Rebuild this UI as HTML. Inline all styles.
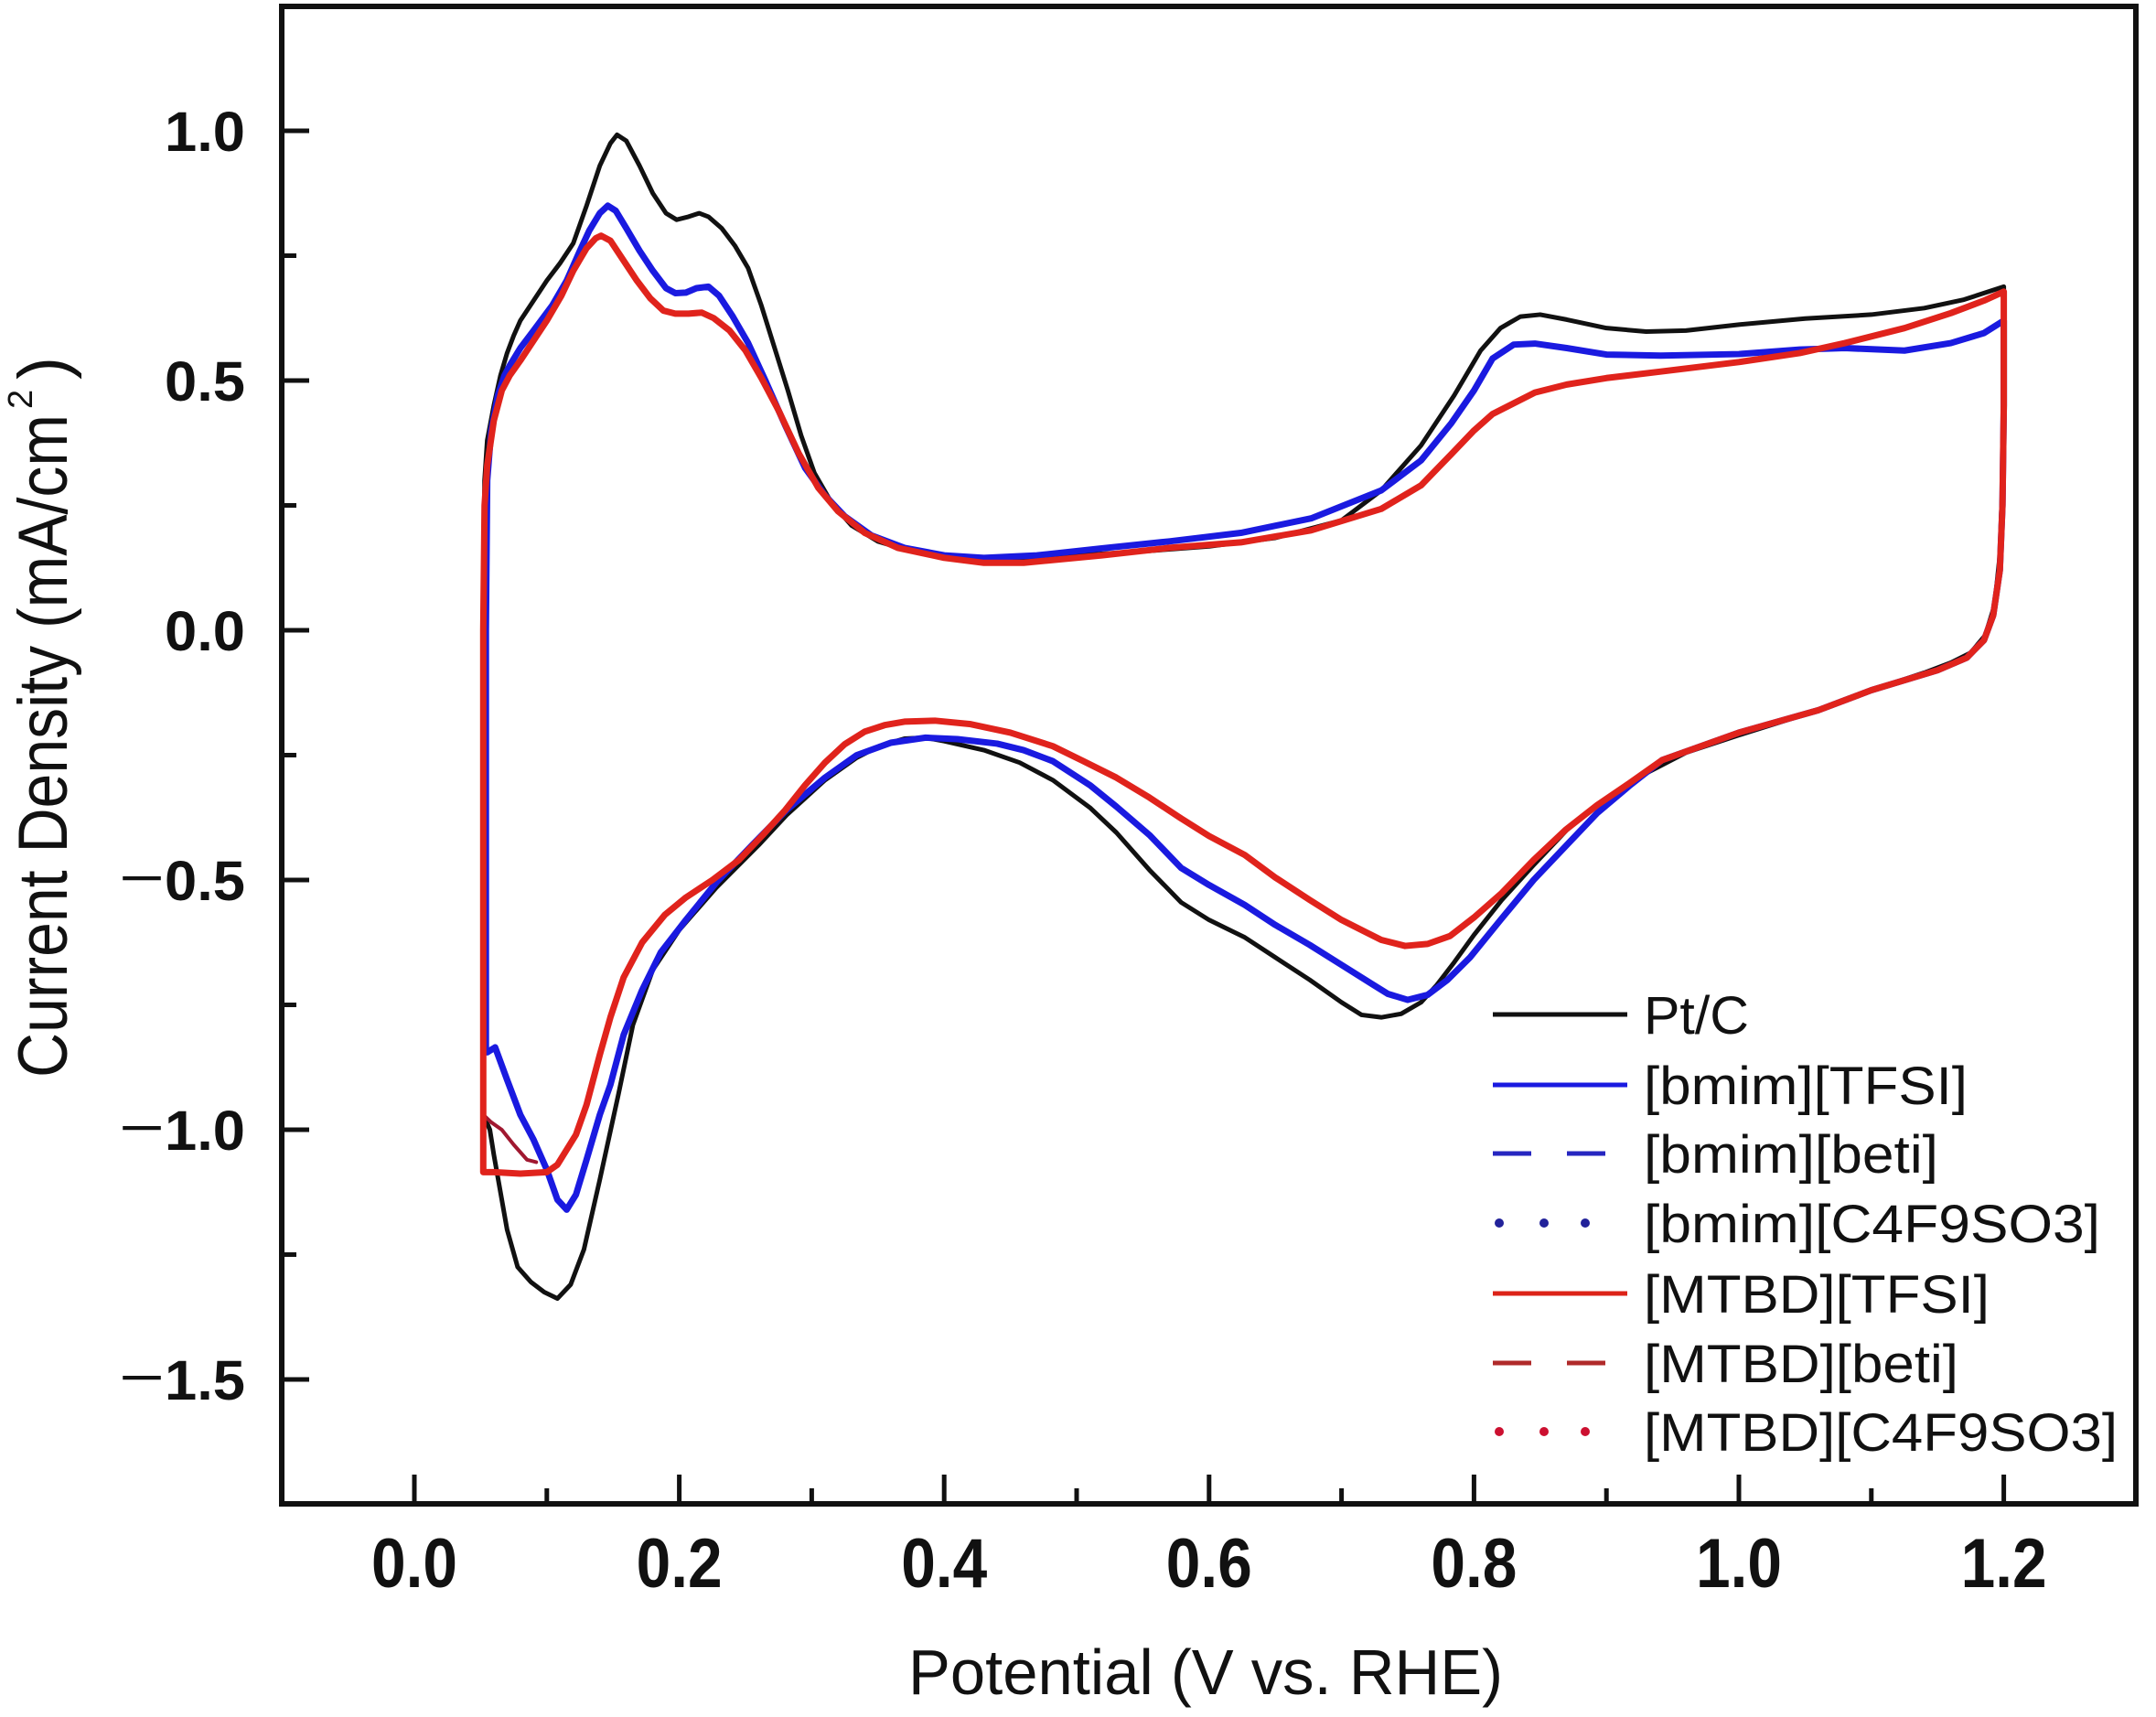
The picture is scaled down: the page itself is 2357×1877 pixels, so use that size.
<!DOCTYPE html>
<html>
<head>
<meta charset="utf-8">
<style>
  html,body{margin:0;padding:0;background:#fff;}
  svg{display:block;}
  text{font-family:"Liberation Sans","DejaVu Sans",sans-serif;fill:#111;}
  .yl{font-size:61px;font-weight:bold;}
  .xl{font-size:76px;font-weight:bold;}
  .lg{font-size:58px;}
  .crv{fill:none;stroke-linejoin:round;stroke-linecap:round;}
</style>
</head>
<body>
<svg width="2357" height="1877" viewBox="0 0 2357 1877" xmlns="http://www.w3.org/2000/svg">
  <rect x="0" y="0" width="2357" height="1877" fill="#fff"/>

  <!-- curves (data coords: mV, mA/cm2*1000) -->
  <g transform="matrix(1.448 0 0 -0.546 453 689)">
    <polyline class="crv" vector-effect="non-scaling-stroke" stroke="#111" stroke-width="5"
      points="52,-970 52,-600 52,0 53,300 55,380 60,450 65,510 70,555 75,590 80,620 90,660 100,700 110,735 120,775 130,850 140,930 148,975 153,992 160,980 170,930 180,875 190,835 198,822 207,828 215,835 222,828 232,805 242,770 252,725 262,650 272,565 282,480 292,390 302,315 315,255 330,210 350,178 375,158 400,148 430,140 460,142 500,150 550,158 600,168 650,185 700,220 730,280 760,370 785,470 805,560 820,605 835,628 850,632 870,622 900,605 930,598 960,600 1000,612 1050,624 1100,632 1140,645 1170,662 1200,688 1200,500 1199,300 1197,150 1193,50 1186,-10 1175,-45 1160,-65 1140,-85 1100,-120 1060,-160 1000,-210 960,-245 920,-300 890,-355 870,-400 845,-470 821,-540 800,-610 785,-665 772,-710 760,-745 745,-768 730,-775 715,-770 700,-745 676,-700 650,-655 627,-615 600,-580 579,-545 555,-480 530,-405 510,-355 482,-300 457,-265 430,-240 400,-222 386,-215 370,-217 351,-232 334,-255 310,-300 281,-370 260,-430 228,-515 200,-600 180,-680 165,-790 154,-930 140,-1100 128,-1240 118,-1310 108,-1338 98,-1325 88,-1305 78,-1275 70,-1200 64,-1110 60,-1050 57,-1000 53,-975 52,-970"/>
    <polyline class="crv" vector-effect="non-scaling-stroke" stroke="#1a1ae0" stroke-width="7"
      points="54,-840 54,-400 54,0 55,300 58,400 63,470 68,510 72,530 80,565 90,600 104,650 115,700 125,760 132,800 140,835 146,850 152,840 160,805 170,760 180,720 190,685 197,675 205,676 213,685 222,688 230,670 240,630 252,575 265,500 280,410 295,325 310,270 325,228 345,190 370,165 400,150 430,145 470,150 519,164 570,178 624,195 677,224 730,280 760,340 783,415 800,480 814,544 830,572 846,574 870,565 900,552 941,550 1000,553 1046,562 1080,565 1125,560 1160,575 1185,595 1200,620 1200,450 1199,250 1197,120 1192,30 1185,-20 1172,-55 1150,-80 1100,-120 1060,-160 1000,-205 942,-260 918,-310 893,-366 870,-430 845,-500 820,-580 797,-655 780,-700 765,-730 750,-740 735,-728 724,-710 700,-670 676,-630 650,-590 627,-550 600,-510 579,-476 555,-410 530,-353 510,-310 482,-262 460,-240 440,-227 410,-218 386,-215 360,-225 334,-250 310,-295 281,-360 255,-430 228,-505 205,-580 186,-645 172,-720 158,-810 148,-910 140,-970 130,-1060 122,-1130 115,-1160 108,-1140 100,-1080 90,-1020 80,-970 70,-900 61,-835 55,-845 54,-840"/>
    <polyline class="crv" vector-effect="non-scaling-stroke" stroke="#a01830" stroke-width="4"
      points="52,-970 58,-985 66,-1000 75,-1030 85,-1060 92,-1065"/>
    <polyline class="crv" vector-effect="non-scaling-stroke" stroke="#e0231c" stroke-width="7"
      points="52,-1085 52,-500 52,0 53,250 55,330 60,420 66,480 72,510 80,540 90,580 100,620 111,670 120,720 130,765 137,785 141,790 148,780 158,740 168,700 178,665 188,640 197,634 207,634 217,636 226,625 238,600 250,560 262,505 275,440 290,355 305,285 320,238 340,195 365,165 400,145 430,135 460,135 519,150 570,165 624,176 677,200 730,243 760,290 783,353 800,400 814,433 846,476 870,492 900,505 941,518 1000,537 1046,555 1080,575 1125,605 1160,635 1185,660 1200,678 1200,450 1199,250 1197,120 1192,30 1185,-20 1172,-55 1150,-80 1100,-120 1060,-160 1000,-205 942,-260 918,-305 893,-350 869,-400 845,-460 821,-526 800,-575 782,-612 765,-628 748,-632 730,-620 700,-580 676,-540 650,-495 627,-450 600,-412 579,-377 555,-335 530,-295 505,-262 482,-232 450,-205 420,-188 393,-181 370,-183 355,-190 340,-203 325,-228 310,-265 295,-310 280,-360 263,-410 245,-460 225,-500 205,-535 189,-570 172,-625 158,-695 148,-775 140,-850 130,-950 122,-1010 115,-1040 108,-1070 100,-1085 80,-1088 60,-1085 52,-1085"/>
  </g>

  <!-- frame -->
  <rect x="308" y="7" width="2027" height="1637" fill="none" stroke="#111" stroke-width="6"/>

  <!-- y ticks -->
  <g stroke="#111" stroke-width="5">
    <line x1="308" y1="143" x2="338" y2="143"/>
    <line x1="308" y1="416" x2="338" y2="416"/>
    <line x1="308" y1="689" x2="338" y2="689"/>
    <line x1="308" y1="962" x2="338" y2="962"/>
    <line x1="308" y1="1235" x2="338" y2="1235"/>
    <line x1="308" y1="1508" x2="338" y2="1508"/>
    <line x1="308" y1="279.5" x2="324" y2="279.5"/>
    <line x1="308" y1="552.5" x2="324" y2="552.5"/>
    <line x1="308" y1="825.5" x2="324" y2="825.5"/>
    <line x1="308" y1="1098.5" x2="324" y2="1098.5"/>
    <line x1="308" y1="1371.5" x2="324" y2="1371.5"/>
  </g>
  <!-- x ticks -->
  <g stroke="#111" stroke-width="5">
    <line x1="453" y1="1644" x2="453" y2="1612"/>
    <line x1="742.6" y1="1644" x2="742.6" y2="1612"/>
    <line x1="1032.2" y1="1644" x2="1032.2" y2="1612"/>
    <line x1="1321.8" y1="1644" x2="1321.8" y2="1612"/>
    <line x1="1611.4" y1="1644" x2="1611.4" y2="1612"/>
    <line x1="1901" y1="1644" x2="1901" y2="1612"/>
    <line x1="2190.6" y1="1644" x2="2190.6" y2="1612"/>
    <line x1="597.8" y1="1644" x2="597.8" y2="1627"/>
    <line x1="887.4" y1="1644" x2="887.4" y2="1627"/>
    <line x1="1177" y1="1644" x2="1177" y2="1627"/>
    <line x1="1466.6" y1="1644" x2="1466.6" y2="1627"/>
    <line x1="1756.2" y1="1644" x2="1756.2" y2="1627"/>
    <line x1="2045.8" y1="1644" x2="2045.8" y2="1627"/>
  </g>

  <!-- y tick labels -->
  <text class="yl" x="180" y="165" textLength="88" lengthAdjust="spacingAndGlyphs">1.0</text>
  <text class="yl" x="180" y="438" textLength="88" lengthAdjust="spacingAndGlyphs">0.5</text>
  <text class="yl" x="180" y="711" textLength="88" lengthAdjust="spacingAndGlyphs">0.0</text>
  <text class="yl" x="180" y="984" textLength="88" lengthAdjust="spacingAndGlyphs">0.5</text>
  <text class="yl" x="180" y="1257" textLength="88" lengthAdjust="spacingAndGlyphs">1.0</text>
  <text class="yl" x="180" y="1530" textLength="88" lengthAdjust="spacingAndGlyphs">1.5</text>
  <text x="130" y="980" font-size="60" textLength="50" lengthAdjust="spacingAndGlyphs">−</text>
  <text x="130" y="1253" font-size="60" textLength="50" lengthAdjust="spacingAndGlyphs">−</text>
  <text x="130" y="1526" font-size="60" textLength="50" lengthAdjust="spacingAndGlyphs">−</text>

  <!-- x tick labels -->
  <text class="xl" x="406" y="1735" textLength="94" lengthAdjust="spacingAndGlyphs">0.0</text>
  <text class="xl" x="695.6" y="1735" textLength="94" lengthAdjust="spacingAndGlyphs">0.2</text>
  <text class="xl" x="985.2" y="1735" textLength="94" lengthAdjust="spacingAndGlyphs">0.4</text>
  <text class="xl" x="1274.8" y="1735" textLength="94" lengthAdjust="spacingAndGlyphs">0.6</text>
  <text class="xl" x="1564.4" y="1735" textLength="94" lengthAdjust="spacingAndGlyphs">0.8</text>
  <text class="xl" x="1854" y="1735" textLength="94" lengthAdjust="spacingAndGlyphs">1.0</text>
  <text class="xl" x="2143.6" y="1735" textLength="94" lengthAdjust="spacingAndGlyphs">1.2</text>

  <!-- axis titles -->
  <text x="993" y="1852" font-size="70" textLength="650" lengthAdjust="spacingAndGlyphs">Potential (V vs. RHE)</text>
  <g transform="translate(73,1178) rotate(-90)">
    <text x="0" y="0" font-size="76" textLength="725" lengthAdjust="spacingAndGlyphs">Current Density (mA/cm</text>
    <text x="731" y="-38" font-size="38">2</text>
    <text x="763" y="0" font-size="76" textLength="25" lengthAdjust="spacingAndGlyphs">)</text>
  </g>

  <!-- legend -->
  <g stroke-width="5" fill="none">
    <line x1="1632" y1="1109" x2="1779" y2="1109" stroke="#111"/>
    <line x1="1632" y1="1186" x2="1779" y2="1186" stroke="#1a1ae0"/>
    <line x1="1632" y1="1261" x2="1674" y2="1261" stroke="#2626c0"/>
    <line x1="1713" y1="1261" x2="1755" y2="1261" stroke="#2626c0"/>
    <line x1="1632" y1="1414" x2="1779" y2="1414" stroke="#dc2318"/>
    <line x1="1632" y1="1490" x2="1674" y2="1490" stroke="#b02a2a"/>
    <line x1="1713" y1="1490" x2="1755" y2="1490" stroke="#b02a2a"/>
  </g>
  <g fill="#22229a">
    <circle cx="1639" cy="1337" r="5"/>
    <circle cx="1688" cy="1337" r="5"/>
    <circle cx="1733" cy="1337" r="5"/>
  </g>
  <g fill="#cc1030">
    <circle cx="1639" cy="1565" r="5"/>
    <circle cx="1688" cy="1565" r="5"/>
    <circle cx="1733" cy="1565" r="5"/>
  </g>
  <text class="lg" x="1797" y="1130" textLength="115" lengthAdjust="spacingAndGlyphs">Pt/C</text>
  <text class="lg" x="1797" y="1207" textLength="354" lengthAdjust="spacingAndGlyphs">[bmim][TFSI]</text>
  <text class="lg" x="1797" y="1282" textLength="322" lengthAdjust="spacingAndGlyphs">[bmim][beti]</text>
  <text class="lg" x="1797" y="1358" textLength="499" lengthAdjust="spacingAndGlyphs">[bmim][C4F9SO3]</text>
  <text class="lg" x="1797" y="1435" textLength="378" lengthAdjust="spacingAndGlyphs">[MTBD][TFSI]</text>
  <text class="lg" x="1797" y="1511" textLength="344" lengthAdjust="spacingAndGlyphs">[MTBD][beti]</text>
  <text class="lg" x="1797" y="1586" textLength="518" lengthAdjust="spacingAndGlyphs">[MTBD][C4F9SO3]</text>
</svg>
</body>
</html>
